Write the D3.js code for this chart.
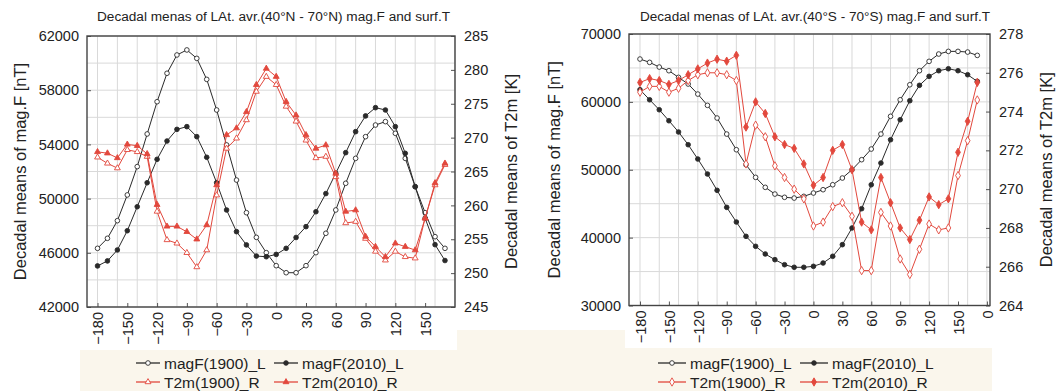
<!DOCTYPE html>
<html><head><meta charset="utf-8">
<script src="https://cdn.jsdelivr.net/npm/d3@7"></script>
<style>
body{margin:0;background:#fff}
svg{display:block}
text{font-family:"Liberation Sans",Arial,sans-serif;fill:#222}
</style></head>
<body><svg id="c" width="1060" height="391"></svg>
<script>
// ---------- data ----------
const lon = [-180,-170,-160,-150,-140,-130,-120,-110,-100,-90,-80,-70,-60,-50,-40,-30,-20,-10,
             0,10,20,30,40,50,60,70,80,90,100,110,120,130,140,150,160,170];

// North (40N-70N)
const magF1900_N = [46330,47070,48370,50270,52360,54770,57150,59250,60600,60970,60350,58800,56540,53960,51370,48960,47140,46010,
                    45050,44530,44530,45050,46010,47440,49160,51130,52970,54570,55430,55680,54820,52970,50880,48960,47190,46330];
const magF2010_N = [45030,45400,46210,47630,49400,51170,52900,54250,55110,55310,54570,53050,51170,49160,47560,46580,45760,45710,
                    45880,46330,47130,47930,49030,50370,51870,53390,54940,56100,56710,56540,55310,53340,50880,48550,46600,45430];
const T2m1900_N  = [267.1,266.2,265.5,268.2,267.9,267.2,259.1,254.9,254.4,253.0,250.9,253.4,261.5,268.4,269.9,272.6,276.8,279.0,
                    277.8,274.6,272.4,269.6,267.0,267.2,264.2,257.4,257.6,255.1,253.2,251.9,253.2,252.4,252.2,258.1,263.0,266.0];
const T2m2010_N  = [267.9,267.7,267.0,269.0,268.8,267.6,260.1,256.9,256.9,256.1,255.0,257.1,263.0,270.4,271.4,273.8,277.8,280.2,
                    279.0,275.3,273.3,270.4,268.4,268.9,264.7,259.1,259.3,255.4,253.9,252.4,254.4,253.9,253.4,258.1,263.3,266.2];

// South (40S-70S)
const magF1900_S = [66310,65820,65130,64590,63610,62630,61150,59490,57620,55260,52950,50740,48880,47410,46420,45940,45830,46080,
                    46570,47060,47790,48780,50000,51480,53050,55260,57870,60310,62520,64590,65970,67050,67440,67440,67340,66850];
const magF2010_S = [61790,60310,58840,57220,55560,53690,51580,49370,46970,44460,42300,40190,38720,37590,36750,36010,35630,35630,
                    35770,36260,37250,38960,41420,44260,47790,50990,54420,57370,60170,62440,63760,64590,64880,64590,64000,63020];
const T2m1900_S  = [275.0,275.3,275.3,275.0,275.2,275.6,275.9,276.0,276.0,275.9,275.6,271.3,273.3,272.7,271.2,270.6,270.0,269.5,
                    268.1,268.3,269.1,269.3,268.6,265.8,265.8,268.8,268.1,266.4,265.6,266.9,268.2,267.9,268.0,270.7,272.5,274.6];
const T2m2010_S  = [275.5,275.7,275.6,275.4,275.6,275.9,276.2,276.5,276.7,276.6,276.9,273.2,274.5,273.9,272.7,272.3,272.1,271.3,
                    270.2,270.6,272.0,272.3,271.0,268.3,267.9,270.6,269.3,268.0,267.4,268.4,269.6,269.2,269.5,271.9,273.5,275.5];

const xTicks = [-180,-150,-120,-90,-60,-30,0,30,60,90,120,150];
const xTicksS = [-180,-150,-120,-90,-60,-30,0,30,60,90,120,150,180];
const xGrid = [-180,-160,-140,-120,-100,-80,-60,-40,-20,0,20,40,60,80,100,120,140,160,180];
const yLTicksN = [42000,46000,50000,54000,58000,62000];
const yLGridN = [44000,48000,52000,56000,60000];
const yRTicksN = [245,250,255,260,265,270,275,280,285];
const yLTicksS = [30000,40000,50000,60000,70000];
const yLGridS = [35000,45000,55000,65000];
const yRTicksS = [264,266,268,270,272,274,276,278];
const legendLabels = ["magF(1900)_L","magF(2010)_L","T2m(1900)_R","T2m(2010)_R"];

const RED = "#e2483d", BLK = "#2a2a2a";
const svg = d3.select("#c");

// beige background bits behind legends
const BEIGE = "#faf6ec";
svg.append("rect").attr("x",80).attr("y",350).attr("width",432).attr("height",41).attr("fill",BEIGE);
svg.append("rect").attr("x",457).attr("y",330).attr("width",73).attr("height",61).attr("fill",BEIGE);
svg.append("rect").attr("x",530).attr("y",348).attr("width",462).attr("height",43).attr("fill",BEIGE);
svg.append("rect").attr("x",530).attr("y",330).attr("width",95).attr("height",61).attr("fill",BEIGE);

function panel(c){
  const g = svg.append("g");
  const x = d3.scaleLinear().domain(c.xDom).range([c.x0,c.x1]);
  const yL = d3.scaleLinear().domain(c.yLDom).range([c.y1,c.y0]);
  const yR = d3.scaleLinear().domain(c.yRDom).range([c.y1,c.y0]);
  g.append("rect").attr("x",c.x0).attr("y",c.y0).attr("width",c.x1-c.x0).attr("height",c.y1-c.y0).attr("fill","#fff");
  // grid
  g.selectAll(".gx").data(xGrid).join("line")
    .attr("x1",d=>x(d)).attr("x2",d=>x(d)).attr("y1",c.y0).attr("y2",c.y1)
    .attr("stroke","#d9d9d9").attr("stroke-width",1);
  g.selectAll(".gy").data(c.yLTicks.concat(c.yLGrid)).join("line")
    .attr("x1",c.x0).attr("x2",c.x1).attr("y1",d=>yL(d)).attr("y2",d=>yL(d))
    .attr("stroke","#d9d9d9").attr("stroke-width",1);
  // axes
  const aL = g.append("g").attr("transform",`translate(${c.x0},0)`)
    .call(d3.axisLeft(yL).tickValues(c.yLTicks).tickFormat(d3.format("d")).tickSizeInner(-4).tickSizeOuter(0).tickPadding(8));
  const aR = g.append("g").attr("transform",`translate(${c.x1},0)`)
    .call(d3.axisRight(yR).tickValues(c.yRTicks).tickFormat(d3.format("d")).tickSizeInner(-4).tickSizeOuter(0).tickPadding(9));
  const aB = g.append("g").attr("transform",`translate(0,${c.y1})`)
    .call(d3.axisBottom(x).tickValues(c.xTicks).tickFormat(c.xFmt).tickSizeInner(-4).tickSizeOuter(0));
  aB.selectAll("text").attr("transform","rotate(-90)").attr("x",-5).attr("y",0).attr("dy","0.36em").attr("text-anchor","end");
  [aL,aR,aB].forEach(a=>{
    a.select(".domain").remove();
    a.selectAll("line").attr("stroke","#555");
    a.selectAll("text").attr("font-size",14.5).attr("fill","#222")
      .attr("font-family",'"Liberation Sans",Arial,sans-serif');
  });
  // frame
  g.append("rect").attr("x",c.x0).attr("y",c.y0).attr("width",c.x1-c.x0).attr("height",c.y1-c.y0)
    .attr("fill","none").attr("stroke","#444").attr("stroke-width",1.4);
  // series
  const defs = [
    {v:c.m1900, y:yL, col:BLK, fill:"#fff", sym:"circle"},
    {v:c.m2010, y:yL, col:BLK, fill:BLK, sym:"circle"},
    {v:c.t1900, y:yR, col:RED, fill:"#fff", sym:c.tSym},
    {v:c.t2010, y:yR, col:RED, fill:RED, sym:c.tSym}
  ];
  const symGen = {
    circle: d3.symbol().type(d3.symbolCircle).size(17),
    triangle: d3.symbol().type(d3.symbolTriangle).size(15),
    diamond: d3.symbol().type(d3.symbolDiamond).size(20)
  };
  defs.forEach(s=>{
    const pts = lon.map((d,i)=>[x(d), s.y(s.v[i])]);
    g.append("path").attr("d",d3.line()(pts)).attr("fill","none").attr("stroke",s.col).attr("stroke-width",1);
    g.selectAll(null).data(pts).join("path")
      .attr("transform",p=>`translate(${p[0]},${p[1]})`).attr("d",symGen[s.sym]())
      .attr("fill",s.fill).attr("stroke",s.col).attr("stroke-width",0.9);
  });
  // titles
  g.append("text").attr("x",c.tx).attr("y",21).attr("font-size",12.5).text(c.title)
    .attr("textLength",c.tw).attr("lengthAdjust","spacingAndGlyphs");
  g.append("text").attr("transform",`translate(${c.ltx},${(c.y0+c.y1)/2}) rotate(-90)`)
    .attr("text-anchor","middle").attr("font-size",16.5).text("Decadal means of mag.F [nT]");
  g.append("text").attr("transform",`translate(${c.rtx},${(c.y0+c.y1)/2}) rotate(-90)`)
    .attr("text-anchor","middle").attr("font-size",16.5).text("Decadal means of  T2m [K]");
  // legend
  defs.forEach((s,i)=>{
    const lx = c.leg[i][0], ly = c.leg[i][1];
    g.append("line").attr("x1",lx).attr("x2",lx+c.legW).attr("y1",ly).attr("y2",ly).attr("stroke",s.col).attr("stroke-width",1.3);
    g.append("path").attr("transform",`translate(${lx+c.legW/2},${ly})`).attr("d",symGen[s.sym]())
      .attr("fill",s.fill).attr("stroke",s.col).attr("stroke-width",0.9);
    g.append("text").attr("x",lx+c.legW+4).attr("y",ly+5.5).attr("font-size",15.5).text(legendLabels[i]);
  });
}

panel({
  x0:87, x1:455, y0:36, y1:307,
  xDom:[-190.6,180.1], yLDom:[42000,62000], yRDom:[245,285],
  yLTicks:yLTicksN, yLGrid:yLGridN, yRTicks:yRTicksN, xTicks:xTicks,
  xFmt:d3.format("d"),
  m1900:magF1900_N, m2010:magF2010_N, t1900:T2m1900_N, t2010:T2m2010_N, tSym:"triangle",
  title:"Decadal menas of  LAt. avr.(40\u00B0N - 70\u00B0N) mag.F and surf.T", tx:97, tw:353,
  ltx:26, rtx:517,
  legW:24, leg:[[136,363],[274,363],[136,382],[274,382]]
});
panel({
  x0:629, x1:990, y0:34, y1:305.5,
  xDom:[-191.4,183.2], yLDom:[30000,70000], yRDom:[264,278],
  yLTicks:yLTicksS, yLGrid:yLGridS, yRTicks:yRTicksS, xTicks:xTicksS,
  xFmt:d=> d===180 ? "0" : d3.format("d")(d),
  m1900:magF1900_S, m2010:magF2010_S, t1900:T2m1900_S, t2010:T2m2010_S, tSym:"diamond",
  title:"Decadal menas of  LAt. avr.(40\u00B0S - 70\u00B0S) mag.F and surf.T", tx:640, tw:350,
  ltx:560, rtx:1052,
  legW:28, leg:[[658,363],[800,363],[658,382],[800,382]]
});
</script></body></html>
